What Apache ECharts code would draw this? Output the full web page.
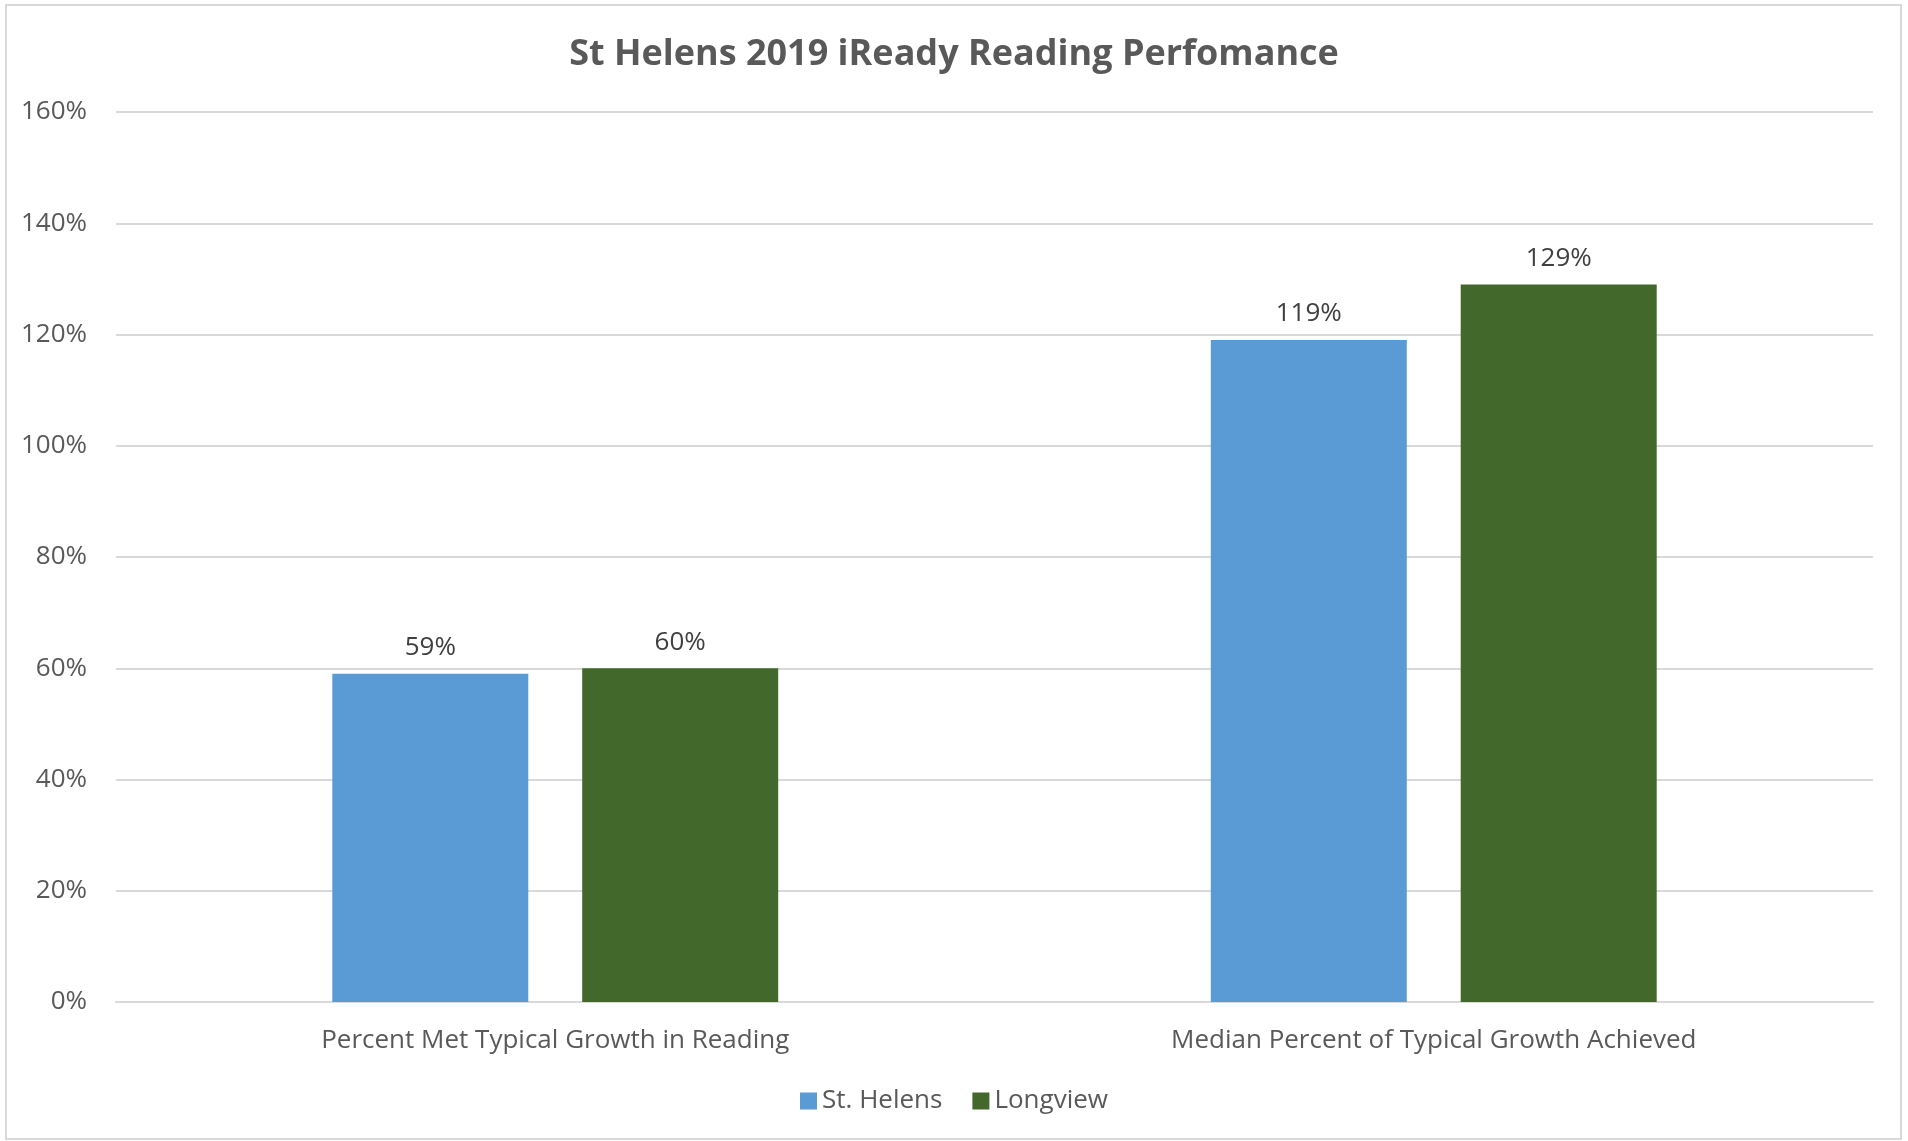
<!DOCTYPE html>
<html>
<head>
<meta charset="utf-8">
<script src="https://cdn.jsdelivr.net/npm/echarts@6/dist/echarts.min.js"></script>
<style>
  html, body { margin: 0; padding: 0; background: #fff; }
  #main { width: 1908px; height: 1141px; }
</style>
</head>
<body>
<div id="main"></div>
<script>
// data
const categories = ['Percent Met Typical Growth in Reading', 'Median Percent of Typical Growth Achieved'];
const stHelens = [59, 119];
const longview = [60, 129];
const seriesNames = ['St. Helens', 'Longview'];

var chart = echarts.init(document.getElementById('main'));
var textColor = '#595959';
var font = '"Open Sans", sans-serif';

function barLabel() {
    return {
        show: true,
        position: 'top',
        distance: 13,
        color: '#404040',
        fontSize: 26,
        fontFamily: font,
        formatter: '{c}%'
    };
}

var option = {
    animation: false,
    backgroundColor: '#fff',
    title: {
        text: 'St Helens 2019 iReady Reading Perfomance',
        left: 'center',
        top: 32,
        textStyle: {
            color: textColor,
            fontSize: 36,
            fontWeight: 'bold',
            fontFamily: font
        }
    },
    graphic: [{
        type: 'rect',
        shape: { x: 6, y: 5, width: 1895, height: 1134 },
        style: { fill: 'none', stroke: '#d9d9d9', lineWidth: 2 },
        silent: true
    }],
    legend: {
        bottom: 22,
        left: 'center',
        itemWidth: 17,
        itemHeight: 17,
        itemGap: 30,
        icon: 'rect',
        textStyle: { color: textColor, fontSize: 26, fontFamily: font },
        data: seriesNames
    },
    grid: {
        left: 116,
        right: 35,
        top: 112,
        bottom: 139
    },
    xAxis: {
        type: 'category',
        data: categories,
        axisLine: { lineStyle: { color: '#d9d9d9', width: 2 } },
        axisTick: { show: false },
        axisLabel: {
            color: textColor,
            fontSize: 26,
            fontFamily: font,
            margin: 26
        }
    },
    yAxis: {
        type: 'value',
        min: 0,
        max: 160,
        interval: 20,
        axisLine: { show: false },
        axisTick: { show: false },
        splitLine: { lineStyle: { color: '#d9d9d9', width: 2 } },
        axisLabel: {
            color: textColor,
            fontSize: 26,
            fontFamily: font,
            margin: 29,
            formatter: '{value}%'
        }
    },
    series: [
        {
            name: seriesNames[0],
            type: 'bar',
            data: stHelens,
            barWidth: 196,
            barGap: '27.5%',
            itemStyle: { color: '#5b9bd5' },
            label: barLabel()
        },
        {
            name: seriesNames[1],
            type: 'bar',
            data: longview,
            barWidth: 196,
            itemStyle: { color: '#43682b' },
            label: barLabel()
        }
    ]
};
chart.setOption(option);
</script>
</body>
</html>
